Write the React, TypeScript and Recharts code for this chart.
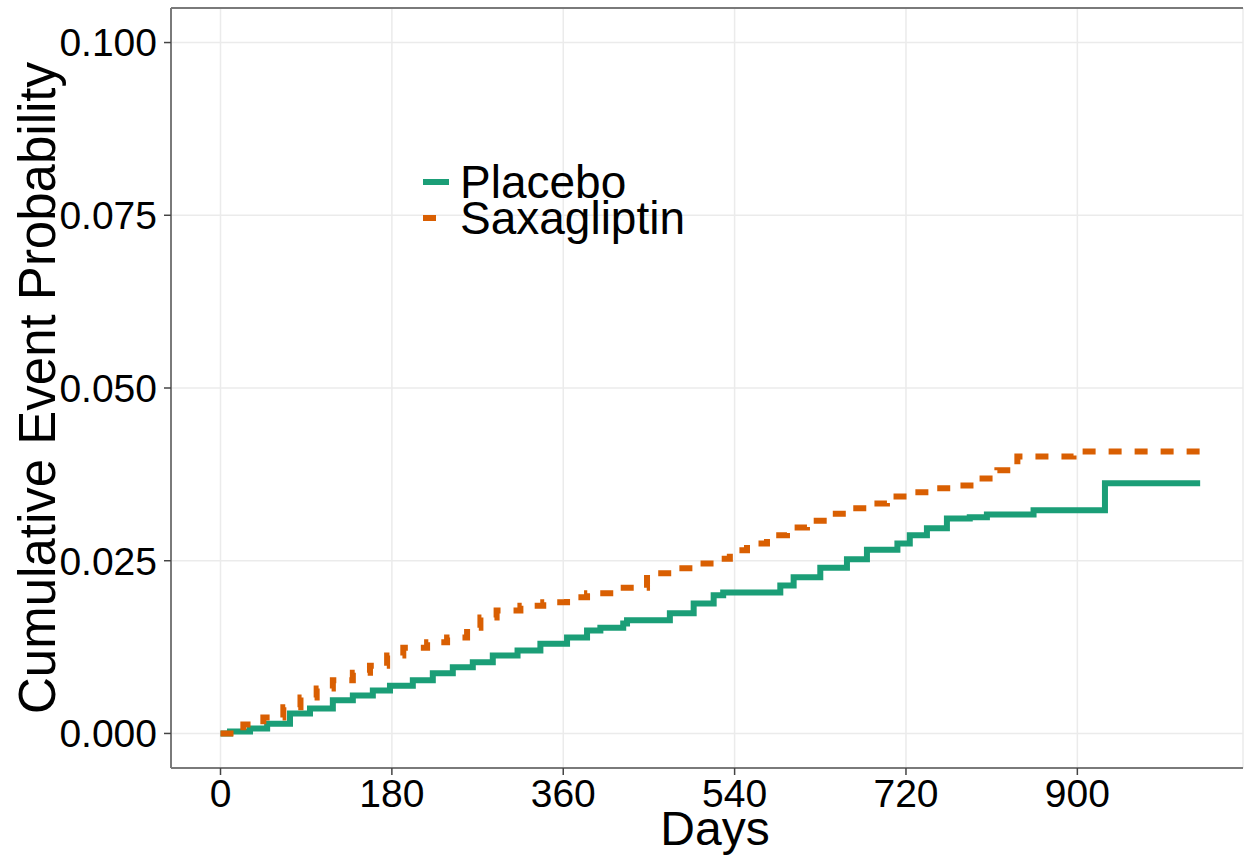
import React from 'react';
import {
  LineChart, Line, XAxis, YAxis, CartesianGrid, ReferenceLine,
} from 'recharts';

// Kaplan-Meier style cumulative event curves, read as (day, probability) step points
const placeboDays = [0, 10, 31, 49, 73, 94, 118, 139, 160, 178, 202, 223, 244, 265, 286, 312, 336, 364, 385, 399, 423, 427, 472, 497, 518, 528, 553, 588, 602, 630, 658, 679, 711, 724, 742, 763, 787, 805, 854, 929, 1029];
const placeboProb = [0, 0.0003, 0.0007, 0.0014, 0.0029, 0.0036, 0.0048, 0.0055, 0.0062, 0.0069, 0.0077, 0.0087, 0.0096, 0.0103, 0.0113, 0.012, 0.013, 0.0139, 0.0149, 0.0153, 0.0159, 0.0164, 0.0174, 0.0188, 0.02, 0.0204, 0.0204, 0.0214, 0.0226, 0.024, 0.0252, 0.0266, 0.0275, 0.0287, 0.0297, 0.0311, 0.0313, 0.0317, 0.0323, 0.0362, 0.0362];

const saxaDays = [0, 24, 45, 66, 84, 101, 118, 139, 157, 175, 192, 217, 238, 259, 273, 290, 315, 339, 364, 385, 413, 448, 475, 497, 518, 535, 553, 574, 595, 616, 637, 658, 679, 700, 724, 749, 774, 795, 816, 837, 896, 1042];
const saxaProb = [0, 0.0013, 0.0023, 0.0038, 0.0052, 0.0065, 0.0077, 0.0088, 0.0098, 0.0113, 0.0124, 0.0132, 0.0139, 0.0153, 0.0168, 0.0178, 0.0185, 0.019, 0.0197, 0.0203, 0.0211, 0.0232, 0.0239, 0.0246, 0.0253, 0.0265, 0.0275, 0.0287, 0.0298, 0.0308, 0.0318, 0.0326, 0.0333, 0.0343, 0.0349, 0.0355, 0.0359, 0.0369, 0.0381, 0.0401, 0.0408, 0.0408];

const xTicks = [0, 180, 360, 540, 720, 900];
const yTicks = [0, 0.025, 0.05, 0.075, 0.1];

const X_DOMAIN: [number, number] = [-52, 1074];
const Y_DOMAIN: [number, number] = [-0.005, 0.105];

const GREEN = '#1B9E77';
const ORANGE = '#D95F02';
const FONT = '"Liberation Sans", Arial, sans-serif';

const placebo = placeboDays.map((d, i) => ({ day: d, prob: placeboProb[i] }));
const saxagliptin = saxaDays.map((d, i) => ({ day: d, prob: saxaProb[i] }));

const series = [
  { name: 'Placebo', color: GREEN, dash: undefined as string | undefined },
  { name: 'Saxagliptin', color: ORANGE, dash: '13 13' },
];

// legend keys sit inside the panel, so it is laid over the chart rather than
// going through <Legend>, which would shrink the plot area
function KeyLegend() {
  return (
    <div
      style={{
        position: 'absolute', left: 423, top: 164,
        fontFamily: FONT, fontSize: 46, lineHeight: '36px', color: '#000',
      }}
    >
      {series.map((s) => (
        <div key={s.name} style={{ display: 'flex', alignItems: 'center', height: 36 }}>
          <svg width={26} height={10} style={{ marginRight: 11 }}>
            <line x1={0} y1={5} x2={26} y2={5} stroke={s.color} strokeWidth={6} strokeDasharray={s.dash} />
          </svg>
          <span>{s.name}</span>
        </div>
      ))}
    </div>
  );
}

export default function App() {
  const tickStyle = { fontFamily: FONT, fontSize: 39, fill: '#000' };
  return (
    <div style={{ position: 'absolute', left: 0, top: 0, width: 1245, height: 856, background: '#fff' }}>
      <LineChart width={1245} height={856} margin={{ top: 8, right: 2, bottom: 0, left: 0 }}>
        <CartesianGrid stroke="#ebebeb" strokeWidth={1.5} />
        <XAxis
          type="number"
          dataKey="day"
          domain={X_DOMAIN}
          ticks={xTicks}
          allowDataOverflow
          height={88}
          tick={tickStyle}
          tickSize={7}
          tickMargin={4}
          tickLine={{ stroke: '#444', strokeWidth: 1.5 }}
          axisLine={{ stroke: '#7a7a7a', strokeWidth: 2 }}
          label={{ value: 'Days', position: 'insideBottom', offset: 11, dx: 8, style: { fontFamily: FONT, fontSize: 48, fill: '#000' } }}
        />
        <YAxis
          type="number"
          dataKey="prob"
          domain={Y_DOMAIN}
          ticks={yTicks}
          allowDataOverflow
          width={171}
          tick={tickStyle}
          tickSize={7}
          tickMargin={7}
          tickFormatter={(v: number) => v.toFixed(3)}
          tickLine={{ stroke: '#444', strokeWidth: 1.5 }}
          axisLine={{ stroke: '#7a7a7a', strokeWidth: 2 }}
          label={{
            value: 'Cumulative Event Probability',
            angle: -90,
            position: 'insideLeft',
            offset: 37,
            style: { fontFamily: FONT, fontSize: 51, fill: '#000', textAnchor: 'middle' },
          }}
        />
        <ReferenceLine y={Y_DOMAIN[1]} stroke="#7a7a7a" strokeWidth={2} ifOverflow="extendDomain" />
        <Line
          data={placebo}
          dataKey="prob"
          name="Placebo"
          type="stepAfter"
          stroke={GREEN}
          strokeWidth={6}
          dot={false}
          isAnimationActive={false}
        />
        <Line
          data={saxagliptin}
          dataKey="prob"
          name="Saxagliptin"
          type="stepAfter"
          stroke={ORANGE}
          strokeWidth={6}
          strokeDasharray="13 13"
          dot={false}
          isAnimationActive={false}
        />
      </LineChart>
      <KeyLegend />
    </div>
  );
}
